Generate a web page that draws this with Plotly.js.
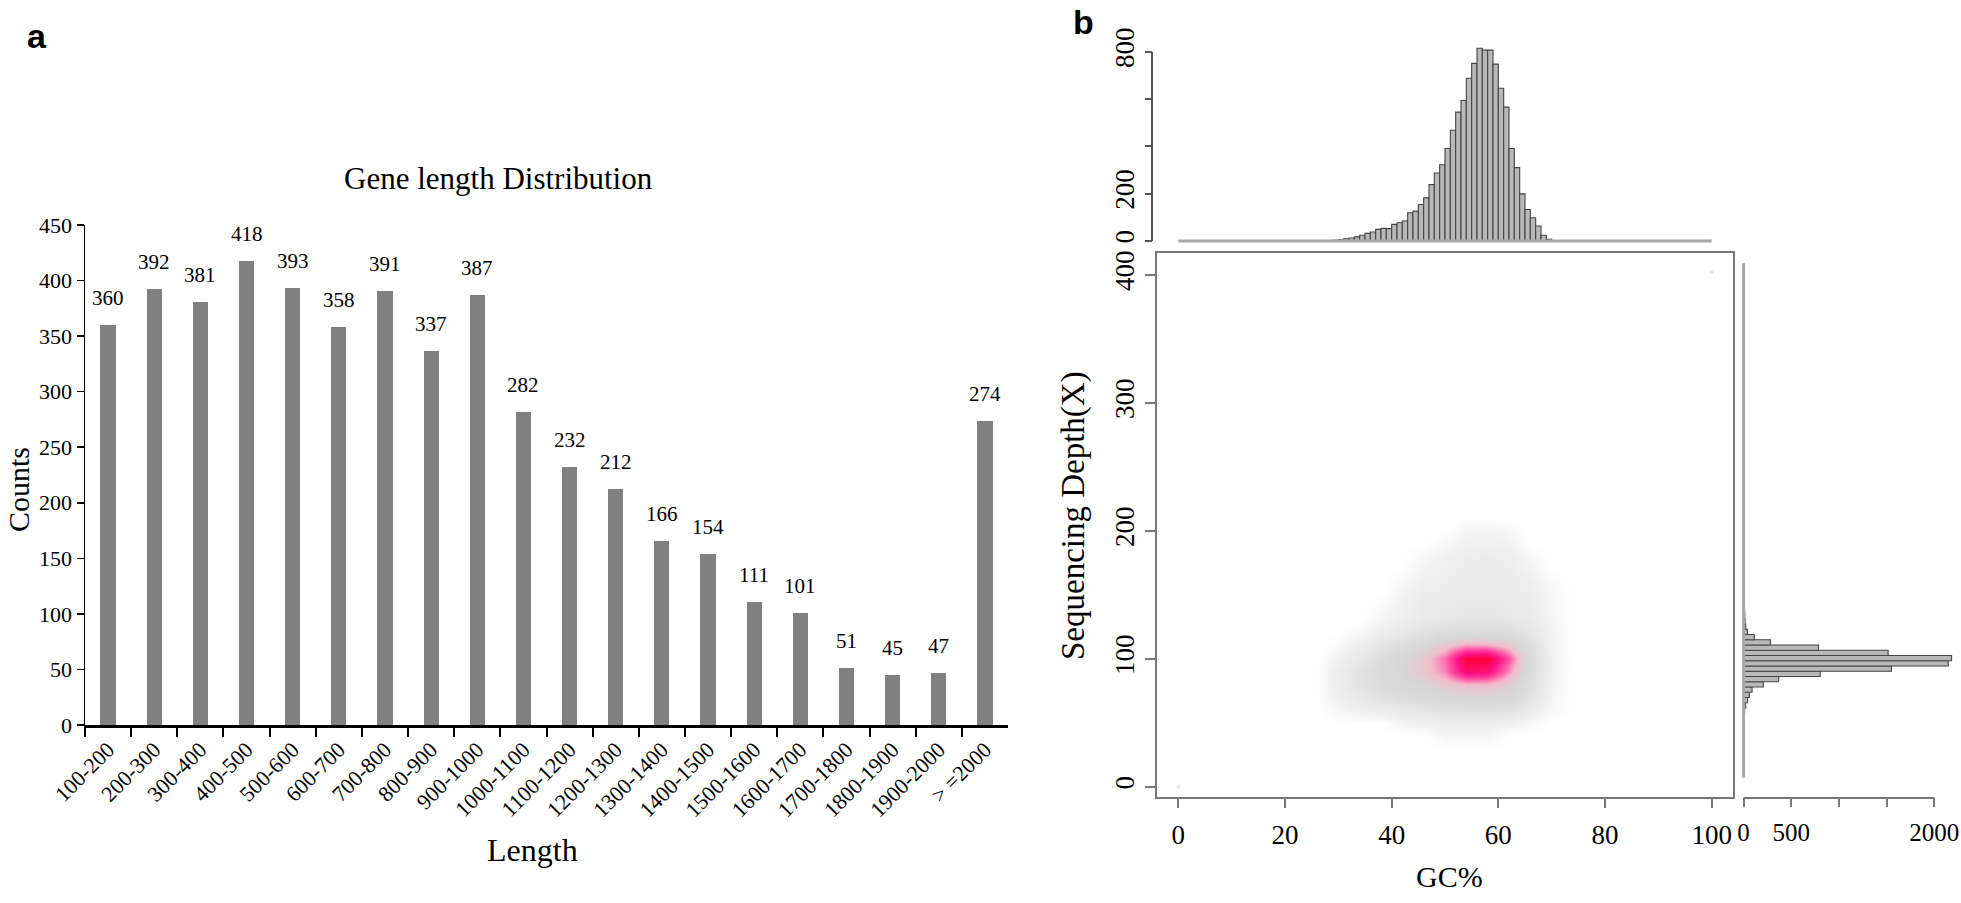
<!DOCTYPE html>
<html>
<head>
<meta charset="utf-8">
<script src="https://cdn.plot.ly/plotly-3.0.1.min.js"></script>
<style>html,body{margin:0;padding:0;background:#fff;}#chart{width:1961px;height:903px;}</style>
</head>
<body>
<div id="chart"></div>
<script>
// ---------- Panel a : gene length distribution ----------
const lengthCategories = ['100-200','200-300','300-400','400-500','500-600','600-700','700-800','800-900','900-1000','1000-1100','1100-1200','1200-1300','1300-1400','1400-1500','1500-1600','1600-1700','1700-1800','1800-1900','1900-2000','> =2000'];
const lengthCounts = [360,392,381,418,393,358,391,337,387,282,232,212,166,154,111,101,51,45,47,274];
const countTicks = [0,50,100,150,200,250,300,350,400,450];

// ---------- Panel b : GC% histogram (1% bins, left edge) ----------
const gcBinLeft = [28,29,30,31,32,33,34,35,36,37,38,39,40,41,42,43,44,45,46,47,48,49,50,51,52,53,54,55,56,57,58,59,60,61,62,63,64,65,66,67,68,69];
const gcBinCounts = [2,3,5,9,12,17,24,32,38,49,53,52,70,77,84,119,126,154,182,238,287,322,391,468,545,594,688,751,815,807,807,748,646,566,391,310,199,133,98,63,24,7];

// ---------- Panel b : depth histogram (bin centres, width 4.1) ----------
const depthBinCenter = [43.05,47.15,51.25,55.35,59.45,63.55,67.65,71.75,75.85,79.95,84.05,88.15,92.25,96.35,100.45,104.55,108.65,112.75,116.85,120.95,125.05,129.15,133.25,137.35,141.45,145.55,149.65,153.75,157.85,161.95,166.05,170.15,174.25,178.35,182.45];
const depthBinCounts = [1,2,3,5,10,22,42,60,88,207,368,803,1551,2147,2182,1516,786,281,112,40,22,15,12,10,8,7,6,5,5,4,4,3,3,2,2];

// ---------- Panel b : scatter point density ----------
const gcGrid = [26,30,34,38,42,46,50,54,58,62,66,70,74];
const depthGrid = [30,40,50,60,70,80,90,100,110,120,130,140,150,160,170,180,190,200,210];
const densityGrid = [
  [0,0,0,0,0,0,0,0,0,0,0,0,0],
  [0,0,0,0,0,0,0.4,0.4,0.4,0,0,0,0],
  [0,0,0,0,0.5,0.7,0.9,0.9,0.9,0.7,0.3,0,0],
  [0,0.4,0.7,1,1.3,1.6,1.9,2.1,2.1,1.9,1.1,0.3,0],
  [0,0.7,1.3,1.9,2.3,2.6,2.9,3,3,2.8,1.8,0.4,0],
  [0,0.9,1.7,2.4,2.8,3.1,3.5,3.8,3.8,3.3,2.2,0.5,0],
  [0,0.9,1.8,2.6,3,3.5,4.4,6.2,6,4.2,2.4,0.6,0],
  [0,0.6,1.4,2.3,2.9,3.5,4.6,6.8,7,4.8,2.5,0.6,0],
  [0,0.2,0.8,1.6,2.3,2.9,3.6,4.2,4.1,3.6,2.2,0.5,0],
  [0,0,0.3,0.9,1.4,1.9,2.3,2.5,2.5,2.3,1.6,0.5,0],
  [0,0,0,0.4,0.9,1.3,1.5,1.6,1.6,1.5,1.2,0.4,0],
  [0,0,0,0.2,0.7,1.1,1.3,1.4,1.4,1.3,1,0.3,0],
  [0,0,0,0,0.5,0.9,1.1,1.3,1.3,1.2,0.9,0.3,0],
  [0,0,0,0,0.3,0.7,1,1.2,1.3,1.1,0.8,0.2,0],
  [0,0,0,0,0.1,0.5,0.8,1.1,1.2,0.9,0.5,0,0],
  [0,0,0,0,0,0.3,0.6,0.9,1,0.8,0.3,0,0],
  [0,0,0,0,0,0,0.3,0.6,0.7,0.5,0,0,0],
  [0,0,0,0,0,0,0,0.4,0.5,0.3,0,0,0],
  [0,0,0,0,0,0,0,0,0,0,0,0,0]
];
const extremeGC = [0,100];
const extremeDepth = [0,402];
const gcTicks = [0,20,40,60,80,100];
const depthTicks = [0,100,200,300,400];
const gcHistTicks = [0,200,400,600,800];
const gcHistTickText = ['0','200','','','800'];
const depthHistTicks = [0,500,1000,1500,2000];
const depthHistTickText = ['0','500','','','2000'];

const W = 1961, H = 903;
const px = v => v / W;
const py = v => 1 - v / H;
const SERIF = 'Liberation Serif, Times New Roman, serif';

const traces = [];
traces.push({
  type: 'bar', x: lengthCategories, y: lengthCounts, xaxis: 'x', yaxis: 'y',
  width: 0.33, marker: {color: '#808080'}, hoverinfo: 'skip'
});
traces.push({
  type: 'scatter', mode: 'lines', x: [0, 100], y: [0, 0], xaxis: 'x2', yaxis: 'y2',
  line: {color: '#a8a8a8', width: 3}, hoverinfo: 'skip'
});
traces.push({
  type: 'bar', x: gcBinLeft.map(v => v + 0.5), y: gcBinCounts, width: 1, xaxis: 'x2', yaxis: 'y2',
  marker: {color: '#b8b8b8', line: {color: '#444', width: 1.1}}, hoverinfo: 'skip'
});
traces.push({
  type: 'heatmap', x: gcGrid, y: depthGrid, z: densityGrid, xaxis: 'x3', yaxis: 'y3',
  zsmooth: 'best', zmin: 0, zmax: 7, showscale: false, hoverinfo: 'skip',
  colorscale: [[0,'#ffffff'],[0.08,'#f2f2f2'],[0.18,'#e9e9e9'],[0.3,'#dfdfdf'],[0.43,'#d6d6d6'],[0.55,'#f3bccb'],[0.68,'#ff58a6'],[0.82,'#ff128a'],[1,'#ff0038']]
});
traces.push({
  type: 'scatter', mode: 'markers', x: extremeGC, y: extremeDepth, xaxis: 'x3', yaxis: 'y3',
  marker: {color: '#e6e6e6', size: 4}, hoverinfo: 'skip'
});
traces.push({
  type: 'scatter', mode: 'lines', x: [0, 0], y: [7, 409], xaxis: 'x4', yaxis: 'y4',
  line: {color: '#a8a8a8', width: 3}, hoverinfo: 'skip'
});
traces.push({
  type: 'bar', orientation: 'h', y: depthBinCenter, x: depthBinCounts, width: 4.1, xaxis: 'x4', yaxis: 'y4',
  marker: {color: '#b8b8b8', line: {color: '#444', width: 1.1}}, hoverinfo: 'skip'
});

const annotations = lengthCategories.map((c, i) => ({
  x: c, y: lengthCounts[i], xref: 'x', yref: 'y', text: String(lengthCounts[i]),
  showarrow: false, yanchor: 'middle', yshift: 27, font: {family: SERIF, size: 21, color: '#000'}
}));
const txt = (text, x, y, size, extra) => Object.assign({
  text, x: px(x), y: py(y), xref: 'paper', yref: 'paper', showarrow: false,
  xanchor: 'center', yanchor: 'middle', font: {family: SERIF, size, color: '#000'}
}, extra || {});
const SANS = 'Liberation Sans, Arial, sans-serif';
annotations.push(txt('<b>a</b>', 37, 36, 34, {font: {family: SANS, size: 34, color: '#000'}}));
annotations.push(txt('<b>b</b>', 1083, 22, 34, {font: {family: SANS, size: 34, color: '#000'}}));
annotations.push(txt('Gene length Distribution', 498, 178, 31));
annotations.push(txt('Counts', 19, 490, 30, {textangle: -90}));
annotations.push(txt('Length', 532, 850, 32));
annotations.push(txt('GC%', 1449, 876, 30));
annotations.push(txt('Sequencing Depth(X)', 1073, 516, 33, {textangle: -90}));

const tickFontA = {family: SERIF, size: 22, color: '#000'};
const tickFontB = {family: SERIF, size: 27, color: '#000'};

const layout = {
  width: W, height: H, margin: {l: 0, r: 0, t: 0, b: 0},
  paper_bgcolor: '#fff', plot_bgcolor: 'rgba(0,0,0,0)', showlegend: false,
  bargap: 0,
  xaxis: {
    domain: [px(85), px(1008)], anchor: 'y', type: 'category', range: [-0.5, 19.5],
    tickson: 'boundaries', ticks: 'outside', ticklen: 9, tickwidth: 2, tickcolor: '#000',
    showline: true, linewidth: 3, linecolor: '#000', tickangle: -45, tickfont: tickFontA,
    showgrid: false, zeroline: false
  },
  yaxis: {
    domain: [py(725), py(225)], anchor: 'x', range: [0, 450], tickvals: countTicks,
    ticks: 'outside', ticklen: 7, tickwidth: 1.5, tickcolor: '#000',
    showline: true, linewidth: 1.5, linecolor: '#000', tickfont: tickFontA,
    showgrid: false, zeroline: false
  },
  xaxis2: {domain: [px(1157), px(1733)], anchor: 'y2', range: [-4, 104], visible: false},
  yaxis2: {
    domain: [py(248), py(40)], anchor: 'free', position: px(1152), range: [-30, 850],
    tickvals: gcHistTicks, ticktext: gcHistTickText, ticks: 'outside', ticklen: 7, tickwidth: 2,
    tickcolor: '#555', tickangle: -90, tickfont: tickFontB, showline: false,
    showgrid: false, zeroline: false, ticklabeloverflow: 'allow'
  },
  xaxis3: {
    domain: [px(1157), px(1733)], anchor: 'y3', range: [-4, 104], tickvals: gcTicks,
    ticks: 'outside', ticklen: 9, tickwidth: 2, tickcolor: '#777', showline: true, mirror: true,
    linecolor: '#777', linewidth: 2, tickfont: tickFontB, showgrid: false, zeroline: false,
    ticklabelstandoff: 4, ticklabeloverflow: 'allow'
  },
  yaxis3: {
    domain: [py(797), py(253)], anchor: 'x3', range: [-8, 417], tickvals: depthTicks,
    ticks: 'outside', ticklen: 10, tickwidth: 2, tickcolor: '#777', showline: true, mirror: true,
    linecolor: '#777', linewidth: 2, tickangle: -90, tickfont: tickFontB, showgrid: false, zeroline: false
  },
  xaxis4: {
    domain: [px(1736), px(1959)], anchor: 'y4', range: [-80, 2260], tickvals: depthHistTicks,
    ticktext: depthHistTickText, ticks: 'outside', ticklen: 9, tickwidth: 2, tickcolor: '#777',
    showline: false, tickfont: {family: SERIF, size: 25, color: '#000'}, showgrid: false, zeroline: false,
    ticklabelstandoff: 4, ticklabeloverflow: 'allow'
  },
  yaxis4: {domain: [py(797), py(253)], anchor: 'x4', range: [-8, 417], visible: false},
  shapes: [
    {type: 'line', xref: 'paper', x0: px(1152), x1: px(1152), yref: 'y2', y0: 0, y1: 800, line: {color: '#555', width: 2}},
    {type: 'line', xref: 'x4', x0: 0, x1: 2000, yref: 'paper', y0: py(798), y1: py(798), line: {color: '#777', width: 2}}
  ],
  annotations: annotations
};

Plotly.newPlot('chart', traces, layout, {staticPlot: true, displayModeBar: false});
</script>
</body>
</html>
